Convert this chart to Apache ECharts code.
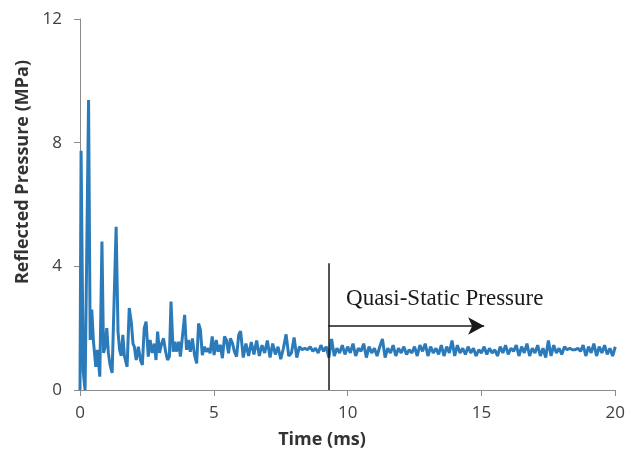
<!DOCTYPE html>
<html>
<head>
<meta charset="utf-8">
<script src="https://cdn.jsdelivr.net/npm/echarts@6/dist/echarts.min.js"></script>
<style>
  html, body { margin: 0; padding: 0; background: #fff; }
  #chart { width: 628px; height: 461px; }
</style>
</head>
<body>
<div id="chart"></div>
<script>
// time in ms, pressure in MPa
const time = [
  0, 0.04, 0.12, 0.19, 0.25, 0.32, 0.38, 0.44, 0.5, 0.55, 0.59, 0.65, 0.74, 0.82, 0.88, 0.94,
  1.0, 1.06, 1.12, 1.2, 1.35, 1.42, 1.48, 1.54, 1.6, 1.66, 1.76, 1.84, 1.92, 1.98,
  2.03, 2.1, 2.18, 2.26, 2.33, 2.4, 2.47, 2.55, 2.62, 2.7, 2.78, 2.84, 2.9, 2.97,
  3.05, 3.12, 3.2, 3.27, 3.34, 3.4, 3.48, 3.55, 3.6, 3.69, 3.75, 3.8, 3.91, 3.98,
  4.05, 4.12, 4.2, 4.28, 4.36, 4.43, 4.5, 4.57, 4.64, 4.72, 4.79, 4.86, 4.94,
  5.01, 5.09, 5.16, 5.24, 5.32, 5.4, 5.47, 5.55, 5.62, 5.7, 5.77, 5.85, 5.93,
  6.0, 6.1, 6.2, 6.3, 6.4, 6.5, 6.6, 6.7, 6.8, 6.9,
  7.0, 7.1, 7.2, 7.3, 7.4, 7.5, 7.6, 7.7, 7.8, 7.9,
  8.0, 8.1, 8.2, 8.3, 8.4, 8.5, 8.6, 8.7, 8.8, 8.9,
  9.0, 9.1, 9.2, 9.3, 9.4, 9.5, 9.6, 9.7, 9.8, 9.9,
  10.0, 10.1, 10.2, 10.3, 10.4, 10.5, 10.6, 10.7, 10.8, 10.9,
  11.0, 11.1, 11.2, 11.3, 11.4, 11.5, 11.6, 11.7, 11.8, 11.9,
  12.0, 12.1, 12.2, 12.3, 12.4, 12.5, 12.6, 12.7, 12.8, 12.9,
  13.0, 13.1, 13.2, 13.3, 13.4, 13.5, 13.6, 13.7, 13.8, 13.9,
  14.0, 14.1, 14.2, 14.3, 14.4, 14.5, 14.6, 14.7, 14.8, 14.9,
  15.0, 15.1, 15.2, 15.3, 15.4, 15.5, 15.6, 15.7, 15.8, 15.9,
  16.0, 16.1, 16.2, 16.3, 16.4, 16.5, 16.6, 16.7, 16.8, 16.9,
  17.0, 17.1, 17.2, 17.3, 17.4, 17.5, 17.6, 17.7, 17.8, 17.9,
  18.0, 18.1, 18.2, 18.3, 18.4, 18.5, 18.6, 18.7, 18.8, 18.9,
  19.0, 19.1, 19.2, 19.3, 19.4, 19.5, 19.6, 19.7, 19.8, 19.9, 20.0
];
const pressure = [
  0, 7.74, 0.6, 0, 0.05, 9.38, 1.62, 2.6, 1.6, 1.55, 0.75, 1.3, 0.43, 4.8, 1.2, 1.4,
  2.0, 1.2, 0.83, 0.55, 5.28, 1.9, 1.3, 1.1, 1.78, 1.1, 0.75, 2.65, 2.17, 1.5,
  1.4, 0.97, 1.4, 0.97, 0.81, 2.0, 2.21, 1.08, 1.62, 1.2, 1.5, 0.97, 1.89, 1.2,
  1.5, 1.67, 1.24, 0.97, 1.08, 2.86, 1.24, 1.56, 1.24, 1.56, 1.08, 1.03, 2.43, 1.3,
  1.62, 1.24, 1.67, 1.13, 0.86, 2.15, 1.94, 1.13, 1.4, 1.24, 1.35, 1.19, 1.73,
  1.13, 1.62, 1.24, 1.46, 1.03, 1.73, 1.62, 1.19, 1.67, 1.5, 1.24, 1.08, 1.78,
  1.9, 1.05, 1.5, 1.1, 1.55, 1.15, 1.6, 1.1, 1.45, 1.2,
  1.6, 1.05, 1.5, 1.15, 1.4, 1.0, 1.35, 1.8, 1.1, 1.2,
  1.7, 1.05, 1.4, 1.3, 1.35, 1.3, 1.4, 1.25, 1.35, 1.2,
  1.45, 1.25, 1.4, 1.05, 1.65, 1.1, 1.35, 1.2, 1.45, 1.15,
  1.4, 1.2, 1.5, 1.1, 1.35, 1.25, 1.5, 1.05, 1.4, 1.2,
  1.35, 1.1, 1.4, 1.65, 1.05, 1.35, 1.2, 1.45, 1.1, 1.35,
  1.2, 1.4, 1.15, 1.3, 1.2, 1.4, 1.1, 1.45, 1.25, 1.5,
  1.1, 1.4, 1.2, 1.35, 1.15, 1.45, 1.1, 1.4, 1.2, 1.6,
  1.1, 1.45, 1.2, 1.35, 1.15, 1.4, 1.2, 1.35, 1.1, 1.3,
  1.2, 1.4, 1.15, 1.35, 1.2, 1.3, 1.1, 1.4, 1.2, 1.45,
  1.15, 1.35, 1.25, 1.45, 1.1, 1.4, 1.2, 1.5, 1.1, 1.35,
  1.2, 1.45, 1.1, 1.35, 1.05, 1.6, 1.1, 1.45, 1.2, 1.35,
  1.15, 1.4, 1.3, 1.35, 1.3, 1.3, 1.35, 1.25, 1.45, 1.1,
  1.4, 1.2, 1.5, 1.1, 1.4, 1.2, 1.45, 1.15, 1.35, 1.1, 1.4
];

// annotation: start of quasi-static phase
const qsStart = 9.28;
const qsLineTop = 4.1;
const arrowY = 2.07;
const arrowEnd = 15.1;
const labelPos = [9.94, 2.95];

const chart = echarts.init(document.getElementById("chart"));
const axisColor = "#8c8c8c";
const labelColor = "#404040";

const option = {
  animation: false,
  grid: { left: 80, right: 9, top: 19, bottom: 71 },
  xAxis: {
    type: "value",
    min: 0,
    max: 20,
    interval: 5,
    axisLine: { lineStyle: { color: axisColor, width: 1 } },
    axisTick: { length: 6, lineStyle: { color: axisColor } },
    axisLabel: { fontFamily: "Open Sans", fontSize: 17, color: labelColor, margin: 15 },
    splitLine: { show: false },
  },
  yAxis: {
    type: "value",
    min: 0,
    max: 12,
    interval: 4,
    axisLine: { show: true, lineStyle: { color: axisColor, width: 1 } },
    axisTick: { show: true, length: 6, lineStyle: { color: axisColor } },
    axisLabel: { fontFamily: "Open Sans", fontSize: 17, color: labelColor, margin: 18 },
    splitLine: { show: false },
  },
  graphic: [
    {
      type: "text",
      x: 23,
      y: 172,
      rotation: Math.PI / 2,
      style: {
        text: "Reflected Pressure (MPa)",
        fontFamily: "Open Sans",
        fontWeight: "bold",
        fontSize: 18,
        fill: "#333",
        align: "center",
        verticalAlign: "middle",
      },
    },
    {
      type: "text",
      x: 322,
      y: 440,
      style: {
        text: "Time (ms)",
        fontFamily: "Open Sans",
        fontWeight: "bold",
        fontSize: 18,
        fill: "#333",
        align: "center",
        verticalAlign: "middle",
      },
    },
  ],
  series: [
    {
      type: "line",
      data: time.map((t, i) => [t, pressure[i]]),
      showSymbol: false,
      symbol: "none",
      lineStyle: { color: "#2b7bba", width: 3 },
      z: 2,
      markLine: {
        silent: true,
        animation: false,
        label: { show: false },
        lineStyle: { color: "#1a1a1a", width: 1.5, type: "solid" },
        data: [
          [
            { coord: [qsStart, 0], symbol: "none" },
            { coord: [qsStart, qsLineTop], symbol: "none" },
          ],
          [
            { coord: [qsStart, arrowY], symbol: "none" },
            { coord: [arrowEnd, arrowY], symbol: "arrow", symbolSize: [13, 16] },
          ],
        ],
      },
      markPoint: {
        silent: true,
        symbol: "circle",
        symbolSize: 0,
        label: {
          show: true,
          position: "right",
          distance: 0,
          formatter: "Quasi-Static Pressure",
          fontFamily: "Liberation Serif",
          fontSize: 23,
          color: "#1a1a1a",
        },
        data: [{ coord: labelPos }],
      },
    },
  ],
};

chart.setOption(option);
</script>
</body>
</html>
